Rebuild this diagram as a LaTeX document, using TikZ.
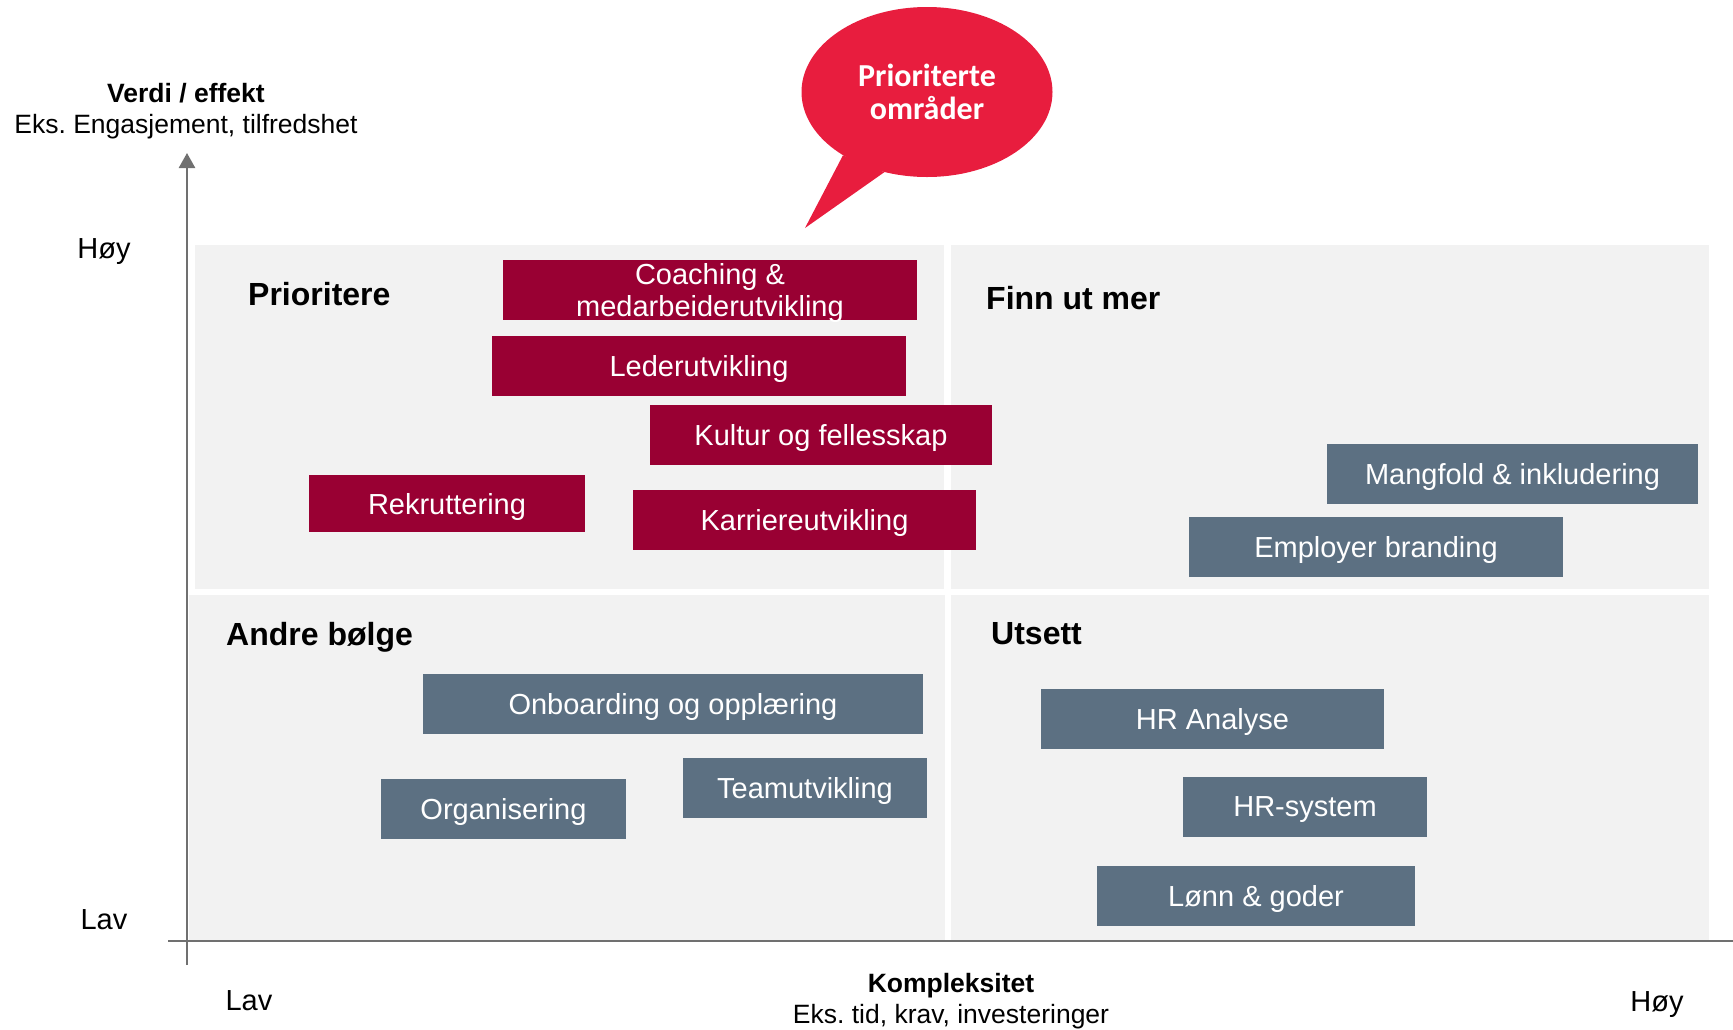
\documentclass[tikz,border=0pt]{standalone}
\usepackage{fontspec}
\setmainfont{Liberation Sans}
\newfontfamily\bubblefont{Carlito}
\usetikzlibrary{arrows.meta,positioning,shapes.geometric}
\definecolor{boxred}{RGB}{153,0,51}
\definecolor{boxslate}{RGB}{92,112,130}
\definecolor{quadgrey}{RGB}{242,242,242}
\definecolor{bubblered}{RGB}{232,29,62}
\definecolor{axisgrey}{RGB}{112,112,112}
\frenchspacing

\begin{document}
\begin{tikzpicture}[
    x=1pt,y=-1pt,
    every node/.style={font=\fontsize{29}{32}\selectfont},
    quad/.style={rectangle,fill=quadgrey,inner sep=0pt,anchor=north west},
    box/.style={rectangle,inner sep=0pt,minimum height=60pt,text=white,
                align=center,text depth=0pt},
    redbox/.style={box,fill=boxred},
    slatebox/.style={box,fill=boxslate},
    heading/.style={font=\fontsize{32}{35}\selectfont\bfseries,anchor=base west,inner sep=0pt},
    tick/.style={anchor=base},
    axislabel/.style={align=center,font=\fontsize{26.5}{31}\selectfont},
    axis/.style={draw=axisgrey,line width=2.5pt}
  ]
    \useasboundingbox (0,0) rectangle (1733,1029);

    \node[quad,minimum width=749pt,minimum height=344pt] (qprio) at (195,245) {};
    \node[quad,minimum width=758pt,minimum height=344pt] (qfinn) at (951,245) {};
    \node[quad,minimum width=756pt,minimum height=345pt] (qandre) at (189,595) {};
    \node[quad,minimum width=758pt,minimum height=345pt] (qutsett) at (951,595) {};

    \coordinate (ytop) at (187,153);
    \coordinate (ybot) at (187,965);
    \coordinate (xleft) at (168,941);
    \coordinate (xright) at (1733,941);
    \draw[axis,-{Triangle[length=15pt,width=16pt]}] (ybot) -- (ytop);
    \draw[axis] (xleft) -- (xright);

    \node[heading] (prioritere) at (248,305) {Prioritere};
    \node[heading] (finnut) at (986,309) {Finn ut mer};
    \node[heading] (andre) at (226,645) {Andre bølge};
    \node[heading] (utsett) at (991,644) {Utsett};

    \node[redbox,minimum width=414pt] (coaching) at (710,289.5) {Coaching \&\\medarbeiderutvikling};
    \node[redbox,minimum width=414pt] (leder) at (699,366) {Lederutvikling};
    \node[redbox,minimum width=342pt] (kultur) at (821,434.5) {Kultur og fellesskap};
    \node[redbox,minimum width=276pt,minimum height=57pt] (rekruttering) at (447,503.5) {Rekruttering};
    \node[redbox,minimum width=343pt] (karriere) at (804.5,519.5) {Karriereutvikling};
    \node[slatebox,minimum width=371pt] (mangfold) at (1512.5,473.5) {Mangfold \& inkludering};
    \node[slatebox,minimum width=374pt] (employer) at (1376,547) {Employer branding};
    \node[slatebox,minimum width=500pt] (onboarding) at (673,703.5) {Onboarding og opplæring};
    \node[slatebox,minimum width=245pt] (organisering) at (503.5,808.5) {Organisering};
    \node[slatebox,minimum width=244pt] (team) at (805,787.5) {Teamutvikling};
    \node[slatebox,minimum width=343pt] (hranalyse) at (1212.5,719) {HR Analyse};
    \node[slatebox,minimum width=244pt] (hrsystem) at (1305,806.5) {HR-system};
    \node[slatebox,minimum width=318pt] (lonn) at (1256,896) {Lønn \& goder};

    \node[tick] (yhigh) at (104,258) {Høy};
    \node[tick] (ylow) at (104,929) {Lav};
    \node[tick] (xlow) at (249,1010) {Lav};
    \node[tick] (xhigh) at (1657,1011) {Høy};
    \node[axislabel] (yname) at (186,111) {\textbf{Verdi / effekt}\\Eks. Engasjement, tilfredshet};
    \node[axislabel] (xname) at (951,1001) {\textbf{Kompleksitet}\\Eks. tid, krav, investeringer};

    \node[ellipse,fill=bubblered,minimum width=251pt,minimum height=170pt,inner sep=0pt,
          text=white,align=center,font=\bubblefont\bfseries\fontsize{32}{33}\selectfont]
          (bubble) at (927,92) {Prioriterte\\områder};
    \coordinate (tailtip) at (805,228);
    \fill[bubblered] (bubble.-143) -- (tailtip) -- (bubble.-118) -- cycle;
\end{tikzpicture}
\end{document}
